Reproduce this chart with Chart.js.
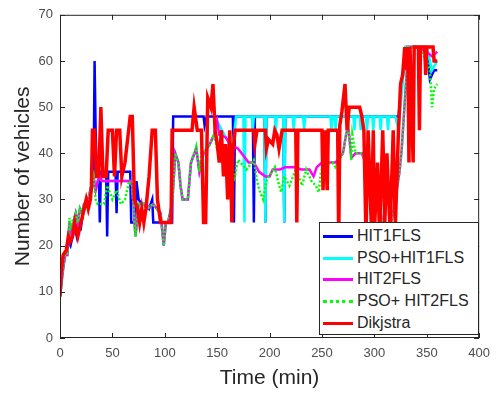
<!DOCTYPE html>
<html>
<head>
<meta charset="utf-8">
<script src="https://cdn.jsdelivr.net/npm/chart.js@4.4.1/dist/chart.umd.min.js"></script>
<style>
  html, body { margin: 0; padding: 0; background: #fff; }
  #wrap { position: relative; width: 498px; height: 395px; }
  #legend {
    position: absolute; left: 319px; top: 222px; width: 160px; height: 113px;
    border: 1px solid #262626; background: #fff; box-sizing: border-box;
    font-family: "Liberation Sans", Arial, sans-serif; font-size: 16px; color: #262626;
  }
  .row { position: absolute; left: 3px; height: 20px; display: flex; align-items: center; white-space: nowrap; }
  .sw { width: 30px; height: 0; border-top: 3px solid; margin-right: 4px; }
</style>
</head>
<body>
<div id="wrap">
  <canvas id="myChart" width="498" height="395"></canvas>
  <div id="legend">
    <div class="row" style="top:3px"><span class="sw" style="border-color:#0000ff"></span>HIT1FLS</div>
    <div class="row" style="top:25px"><span class="sw" style="border-color:#00ffff"></span>PSO+HIT1FLS</div>
    <div class="row" style="top:46px"><span class="sw" style="border-color:#ff00ff"></span>HIT2FLS</div>
    <div class="row" style="top:68px"><span class="sw" style="border-top-style:dotted;border-color:#00ff00"></span>PSO+ HIT2FLS</div>
    <div class="row" style="top:90px"><span class="sw" style="border-color:#ff0000"></span>Dikjstra</div>
  </div>
</div>
<script>
// axis ticks
const xTicks = [0, 50, 100, 150, 200, 250, 300, 350, 400];
const yTicks = [0, 10, 20, 30, 40, 50, 60, 70];

// HIT1FLS (blue)
const hit1T = [0,2,4,6,8,10,12,14,16,18,20,22,25,28,30,32,33,34,35,37,38,39,44,45,46,53,54,55,67,68,72,73,75,78,82,85,88,89,107,108,137,138,140,165,166,167,170,184,185,186,195,196,197,213,214,215,250,300,323,330,350,353,357,360];
const hit1V = [9,14,17,19,21,20,22,24,22,25,24,27,29,30,32,34,60,45,36,36,25,36,36,22,36,36,27,36,36,25,25,34,30,29,29,28,30,25,25,48,48,46,48,48,25,48,48,48,25,48,48,25,48,48,25,48,48,48,48,63,63,56,58,58];

// PSO+HIT1FLS (cyan)
const psoHit1T = [0,2,3,5,7,9,10,13,15,17,19,21,23,25,28,30,32,34,36,38,40,67,69,72,75,80,83,89,96,99,101,103,107,110,113,115,117,122,125,130,133,137,143,147,150,
  158,162,165,168,175,176,177,183,184,185,195,196,197,205,206,207,213,214,215,222,223,224,232,233,234,258,259,260,262,263,264,280,281,282,286,287,288,292,293,294,298,299,300,305,306,307,312,313,314,320,323,330,350,355,360];
const psoHit1V = [9,13,15,18,18,25,23,25,27,25,28,27,29,29,31,33,35,32,34,35,34,34,33,22,29,29,28,29,27,20,25,25,29,40,38,33,30,30,38,41,36,40,42,44,47,
  43.5,42,42,48,48,25,48,48,45,48,48,25,48,48,45,48,48,25,48,48,45,48,48,45,48,48,45,48,48,45,48,48,45,48,48,45,48,48,45,48,48,45,48,48,45,48,48,45,48,48,45,63,63,58,60];

// HIT2FLS (magenta)
const hit2T = [0,2,3,5,7,9,10,13,15,17,19,21,23,25,28,30,32,34,36,38,40,67,69,72,75,80,83,89,96,99,101,103,107,110,113,115,117,122,125,130,133,137,143,147,150,152,158,162,170,180,185,190,196,200,203,210,215,225,230,238,242,245,250,258,263,270,273,275,278,282,288,294,298,303,307,310,316,320,324,326,329,331,332,340,350,355,360];
const hit2V = [9,13,15,18,18,25,23,25,27,25,28,27,29,29,31,33,35,32,34,35,34,34,33,22,29,29,28,29,27,20,25,25,29,40,38,33,30,30,38,41,36,40,42,44,47,44,43.5,42,41,38,38,36,35,35,36.5,36.5,37,37,36.5,36.5,35,37,38,38,38,40,44,46,39,40,40,36.5,35,31.6,26,23.5,25,30,36,40.7,51,58,63,63,62,61,62];

// PSO+ HIT2FLS (green dotted)
const psoHit2T = [0,2,3,5,7,9,10,13,15,17,19,21,23,25,28,30,32,34,36,40,42,45,50,54,58,62,66,69,72,75,80,83,89,96,99,101,103,107,110,113,115,117,122,125,130,133,135,137,143,147,150,157,161,166,170,178,185,188,191,194,197,202,205,208,211,214,219,225,231,235,240,244,247,249,253,260,263,270,273,275,278,279,282,288,291,294,298,303,307,310,316,320,324,326,329,331,332,340,345,350,353,355,357,360];
const psoHit2V = [9,14,15,19,18,26,24,26,27,25,28,27,29,29,31,33,35,30,29,29,29,33,30,32,29,30,34,33,22,29,29,28,29,27,20,25,25,29,40,38,33,30,30,38,41.5,36,40,40,42,44,41,39.5,42,34,38.6,36.5,38.6,34,31.5,30,34,36,37,34,31.6,35,33,36.5,33,36.5,34,33,31.6,36,38,38,37,40,44,46,38.6,44,40,40,39,36.5,35,31.6,26,23.5,25,30,36,40.7,51,58,63,63,62,60,58,50,54,55];

// Dikjstra (red)
const dijT = [0,1,3,6,8,10,12,14,17,20,22,25,27,29,30,31,33,35,37,39,41,44,46,50,52,54,57,59,62,64,67,69,71,74,76,78,80,82,85,88,91,93,96,106,107,126,128,131,135,137,139,141,144,146,148,150,152,154,156,158,160,162,164,165,167,185,186,188,196,197,199,203,205,207,209,212,225,226,227,250,251,253,255,256,265,266,267,269,272,274,276,286,288,290,292,294,297,299,300,303,305,308,310,312,315,318,320,323,325,327,329,331,332,333,334,337,338,342,343,344,348,349,350,356,357,360];
const dijV = [9,14,18,19,22,21,22,25,22,25,27,30,28,30,33,45,45,35,35,50,35,35,45,45,35,45,45,35,38,42,48,48,30,28,25,28,25,28,35,45,45,30,25,25,45,45,50,45,45,25,25,52,50,55,45,42,38,45,35,42,30,45,25,40,45,45,42,45,45,41,43,42,45,44,41,45,45,25,45,45,32,45,32,45,45,20,46,49,55,45,50,50,48,45,22,45,25,45,23,38,22,45,25,40,23,45,24,45,55,57,63,58,63,38,63,38,63,63,45,63,63,57,63,63,60,60];

function pts(ts, vs) {
  return ts.map((t, i) => ({ x: t, y: vs[i] }));
}

const FONT = '"Liberation Sans", Arial, sans-serif';
Chart.defaults.font.family = FONT;

// box and inward tick marks like matlab
const framePlugin = {
  id: 'frame',
  afterDraw(chart) {
    const { ctx, chartArea: a, scales: { x, y } } = chart;
    ctx.save();
    ctx.strokeStyle = '#262626';
    ctx.lineWidth = 1;
    ctx.strokeRect(a.left + 0.5, a.top + 0.5, a.right - a.left - 1, a.bottom - a.top - 1);
    ctx.beginPath();
    xTicks.forEach(v => {
      const px = Math.round(x.getPixelForValue(v)) + 0.5;
      ctx.moveTo(px, a.bottom); ctx.lineTo(px, a.bottom - 5);
      ctx.moveTo(px, a.top); ctx.lineTo(px, a.top + 5);
    });
    yTicks.forEach(v => {
      const py = Math.round(y.getPixelForValue(v)) + 0.5;
      ctx.moveTo(a.left, py); ctx.lineTo(a.left + 5, py);
      ctx.moveTo(a.right, py); ctx.lineTo(a.right - 5, py);
    });
    ctx.stroke();
    ctx.restore();
  }
};

const ctx = document.getElementById('myChart').getContext('2d');
window.myChart = new Chart(ctx, {
  type: 'line',
  data: {
    datasets: [
      { label: 'HIT1FLS', data: pts(hit1T, hit1V), borderColor: '#0000ff', borderWidth: 2.5, order: 4 },
      { label: 'PSO+HIT1FLS', data: pts(psoHit1T, psoHit1V), borderColor: '#00ffff', borderWidth: 2.5, order: 3 },
      { label: 'HIT2FLS', data: pts(hit2T, hit2V), borderColor: '#ff00ff', borderWidth: 2.5, order: 2 },
      { label: 'PSO+ HIT2FLS', data: pts(psoHit2T, psoHit2V), borderColor: '#00ff00', borderWidth: 2.5, borderDash: [2, 2], order: 1 },
      { label: 'Dikjstra', data: pts(dijT, dijV), borderColor: '#ff0000', borderWidth: 3.5, order: 0 }
    ]
  },
  options: {
    responsive: false,
    animation: false,
    layout: { padding: { left: 0, right: 12, top: 10, bottom: 0 } },
    elements: { point: { radius: 0 }, line: { tension: 0, fill: false } },
    plugins: { legend: { display: false }, tooltip: { enabled: false } },
    scales: {
      x: {
        type: 'linear', min: 0, max: 400,
        afterBuildTicks: s => { s.ticks = xTicks.map(v => ({ value: v })); },
        ticks: { color: '#4d4d4d', font: { size: 13 }, padding: 8, maxRotation: 0 },
        grid: { display: false, drawTicks: false },
        border: { display: false },
        title: { display: true, text: 'Time (min)', color: '#262626', font: { size: 21 }, padding: { top: 0, bottom: 4 } },
        afterFit: s => { s.height = 57; }
      },
      y: {
        type: 'linear', min: 0, max: 70,
        afterBuildTicks: s => { s.ticks = yTicks.map(v => ({ value: v })); },
        ticks: { color: '#4d4d4d', font: { size: 13 }, padding: 7 },
        grid: { display: false, drawTicks: false },
        border: { display: false },
        title: { display: true, text: 'Number of vehicles', color: '#262626', font: { size: 21 }, padding: { top: 11, bottom: 0 } },
        afterFit: s => { s.width = 60; }
      }
    }
  },
  plugins: [framePlugin]
});
</script>
</body>
</html>
